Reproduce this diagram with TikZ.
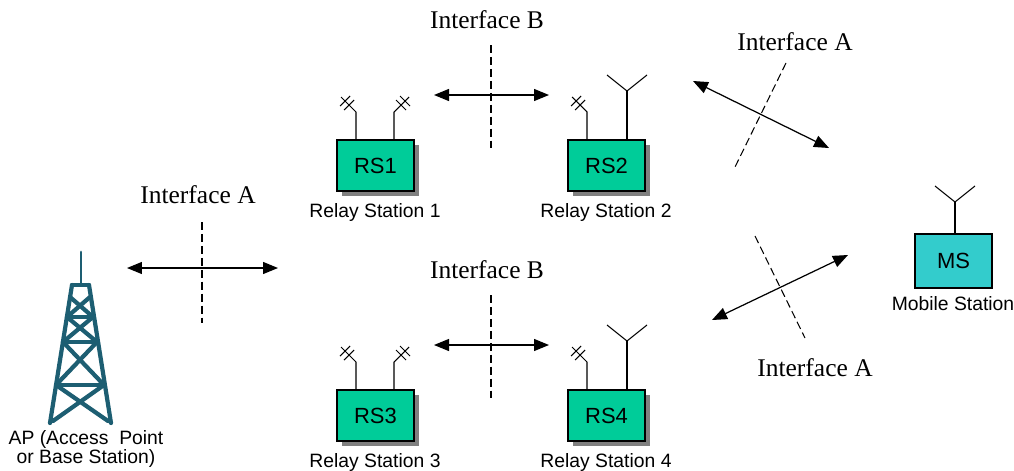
\documentclass[tikz,border=0pt]{standalone}
\usepackage{fontspec}
\setmainfont{Liberation Serif}
\setsansfont{Liberation Sans}
\usetikzlibrary{arrows.meta,shadows}

\definecolor{rsgreen}{HTML}{00CC99}
\definecolor{mscyan}{HTML}{33CCCC}
\definecolor{towerteal}{HTML}{1D5E72}

\begin{document}
\begin{tikzpicture}[x=0.02cm,y=-0.02cm]
\tikzstyle{every node}+=[inner sep=0pt]
\tikzstyle{rsbox}=[draw=black,line width=0.6pt,fill=rsgreen,minimum width=1.54cm,minimum height=1.02cm,
  font=\sffamily\fontsize{12.5}{12.5}\selectfont,
  drop shadow={shadow xshift=0.1cm,shadow yshift=-0.1cm,fill=black!50,opacity=1}]
\tikzstyle{msbox}=[draw=black,line width=0.6pt,fill=mscyan,minimum width=1.54cm,minimum height=1.08cm,
  font=\sffamily\fontsize{12.5}{12.5}\selectfont]
\tikzstyle{caption}=[font=\sffamily\fontsize{11}{11}\selectfont]
\tikzstyle{iface}=[font=\fontsize{14.5}{14.5}\selectfont]
\tikzstyle{link}=[line width=0.7pt,{Triangle[length=0.3cm,width=0.24cm]}-{Triangle[length=0.3cm,width=0.24cm]}]
\tikzstyle{cut}=[line width=0.6pt,dash pattern=on 4.5pt off 2.3pt]
\tikzstyle{aerial}=[line width=0.6pt]
\tikzstyle{tower}=[towerteal,line width=2.4pt,line cap=round,line join=round]
\useasboundingbox (0,0) rectangle (1014,470);

% access point tower
\draw [tower,line width=1.6pt] (81,252) -- (81,285);
\draw [tower] (72,285) -- (50,423);
\draw [tower] (89,285) -- (111,423);
\draw [tower] (72,285) -- (89,285);
\draw [tower] (70,297) -- (93,317);
\draw [tower] (90,297) -- (67,317);
\draw [tower] (67,317) -- (93,317);
\draw [tower] (67,317) -- (97,342);
\draw [tower] (93,317) -- (63,342);
\draw [tower] (63,342) -- (97,342);
\draw [tower] (63,342) -- (104,385);
\draw [tower] (97,342) -- (56,385);
\draw [tower] (56,385) -- (104,385);
\draw [tower] (56,385) -- (108,421);
\draw [tower] (104,385) -- (53,421);
\node [caption,align=center] (ap) at (86,449) {AP (Access\ \ Point\\or Base Station)};

% relay stations
\node [rsbox] (rs1) at (375.5,165.5) {RS1};
\node [rsbox] (rs2) at (606.5,165.5) {RS2};
\node [rsbox] (rs3) at (375.5,415.5) {RS3};
\node [rsbox] (rs4) at (606.5,415.5) {RS4};
\node [caption] (rs1lbl) at (375,212) {Relay Station 1};
\node [caption] (rs2lbl) at (606,212) {Relay Station 2};
\node [caption] (rs3lbl) at (375,462) {Relay Station 3};
\node [caption] (rs4lbl) at (606,462) {Relay Station 4};

% mobile station
\node [msbox] (ms) at (953.5,261) {MS};
\node [caption] (mslbl) at (953,304) {Mobile Station};

% directional aerials (x, box top, side)
\foreach \x/\y/\s in {356/140/-1, 394/140/1, 587/140/-1, 356/390/-1, 394/390/1, 587/390/-1} {
  \draw [aerial] (\x,\y) -- ++(0,-28) -- ++({15*\s},-15);
  \draw [aerial] ({\x+7*\s-5},{\y-35-5*\s}) -- ++(10,{10*\s});
  \draw [aerial] ({\x+11*\s-5},{\y-39-5*\s}) -- ++(10,{10*\s});
}
% omni aerials
\foreach \x/\y/\h in {627/140/49, 627/390/49, 955/234/32} {
  \draw [aerial] (\x,\y) -- ++(0,-\h) coordinate (fork);
  \draw [aerial] (fork) -- ++(-20,-16);
  \draw [aerial] (fork) -- ++(20,-16);
}

% interface A, AP side
\coordinate (ia1w) at (127,268);
\coordinate (ia1e) at (278,268);
\coordinate (ia1n) at (202,222);
\coordinate (ia1s) at (202,323);
\draw [link] (ia1w) -- (ia1e);
\draw [cut] (ia1n) -- (ia1s);
\node [iface] (ia1) at (198,195) {Interface A};

% interface B, upper pair
\coordinate (ib1w) at (434,95);
\coordinate (ib1e) at (549,95);
\coordinate (ib1n) at (491,45);
\coordinate (ib1s) at (491,152);
\draw [link] (ib1w) -- (ib1e);
\draw [cut] (ib1n) -- (ib1s);
\node [iface] (ib1) at (487,20) {Interface B};

% interface B, lower pair
\coordinate (ib2w) at (434,345);
\coordinate (ib2e) at (549,345);
\coordinate (ib2n) at (491,295);
\coordinate (ib2s) at (491,402);
\draw [link] (ib2w) -- (ib2e);
\draw [cut] (ib2n) -- (ib2s);
\node [iface] (ib2) at (487,270) {Interface B};

% interface A, towards the mobile
\coordinate (ia2w) at (693,81);
\coordinate (ia2e) at (829,148);
\coordinate (ia2n) at (786,63);
\coordinate (ia2s) at (735,167);
\draw [link] (ia2w) -- (ia2e);
\draw [cut] (ia2n) -- (ia2s);
\node [iface] (ia2) at (795,42) {Interface A};

\coordinate (ia3w) at (712,320);
\coordinate (ia3e) at (848,255);
\coordinate (ia3n) at (755,236);
\coordinate (ia3s) at (805,338);
\draw [link] (ia3w) -- (ia3e);
\draw [cut] (ia3n) -- (ia3s);
\node [iface] (ia3) at (815,368) {Interface A};
\end{tikzpicture}
\end{document}
